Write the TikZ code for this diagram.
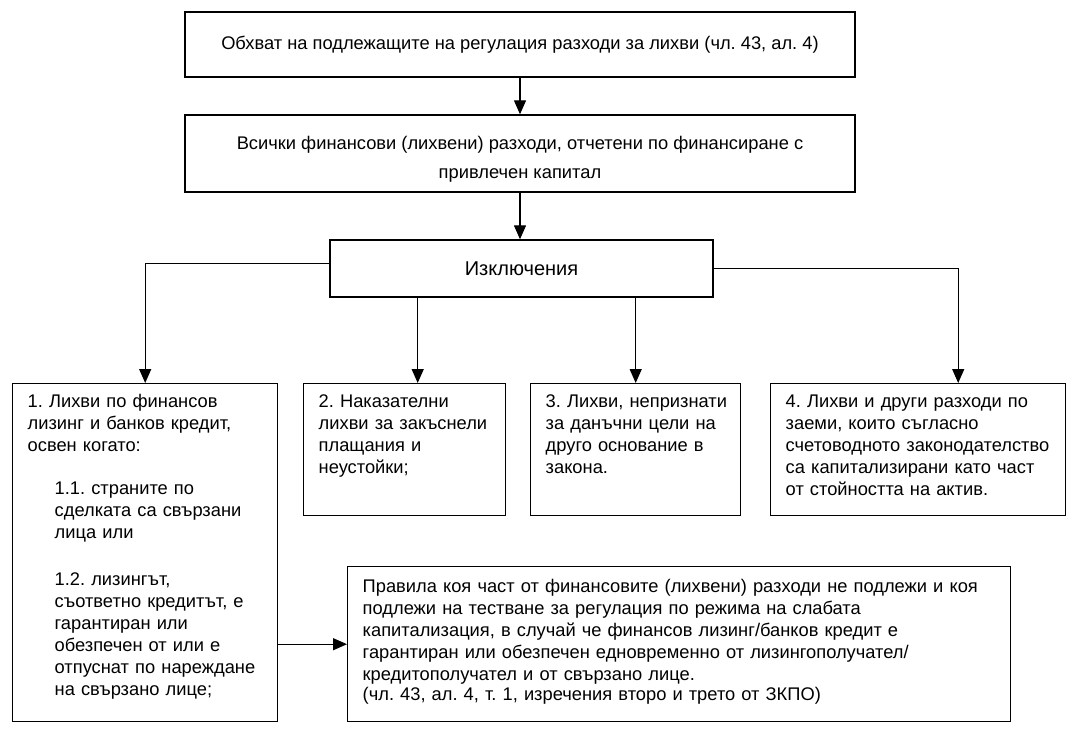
\documentclass[tikz,border=0pt]{standalone}
\usepackage{fontspec}
\setmainfont{Liberation Sans}
\frenchspacing
\usetikzlibrary{arrows.meta}

\begin{document}
\begin{tikzpicture}[
    x=1pt, y=-1pt,
    box/.style={rectangle, draw=black, line width=1.4pt, align=center,
                font=\fontsize{18.3}{22}\selectfont},
    listbox/.style={rectangle, draw=black, line width=1.4pt, anchor=north west,
                    align=left, inner xsep=15pt, inner ysep=0pt, text height=24pt,
                    font=\fontsize{18.3}{22}\selectfont,
                    execute at begin node={\setlength{\baselineskip}{22pt}}},
    arr/.style={-{Triangle[length=14pt, width=12pt]}, line width=1.3pt}
]
\useasboundingbox (0,0) rectangle (1078,729);

\node[box, minimum width=670pt, minimum height=65pt] (scope) at (520,44.5)
    {Обхват на подлежащите на регулация разходи за лихви (чл. 43, ал. 4)};
\node[box, minimum width=670pt, minimum height=77pt] (costs) at (520,153.5)
    {\rule{0pt}{24pt}Всички финансови (лихвени) разходи, отчетени по финансиране с\\[7pt] привлечен капитал};
\node[box, minimum width=383pt, minimum height=57pt, font=\fontsize{20}{24}\selectfont] (excl)
    at (521.5,268.5) {Изключения};

\node[listbox, text width=235pt, text depth=314pt] (lease) at (12,383)
    {1. Лихви по финансов\\ лизинг и банков кредит,\\ освен когато:\\[21pt]
     \hspace*{27pt}1.1. страните по\\
     \hspace*{27pt}сделката са свързани\\
     \hspace*{27pt}лица или\\[25pt]
     \hspace*{27pt}1.2. лизингът,\\
     \hspace*{27pt}съответно кредитът, е\\
     \hspace*{27pt}гарантиран или\\
     \hspace*{27pt}обезпечен от или е\\
     \hspace*{27pt}\mbox{отпуснат по нареждане}\\
     \hspace*{27pt}на свързано лице;};
\node[listbox, text width=172pt, text depth=108pt] (penalty) at (303,383)
    {2. Наказателни\\ \mbox{лихви за закъснели}\\ плащания и\\ неустойки;};
\node[listbox, text width=180pt, text depth=108pt] (nontax) at (530,383)
    {\mbox{3. Лихви, непризнати}\\ за данъчни цели на\\ друго основание в\\ закона.};
\node[listbox, text width=265pt, text depth=108pt] (capital) at (770,383)
    {4. Лихви и други разходи по\\ заеми, които съгласно\\ \mbox{счетоводното законодателство}\\
     са капитализирани като част\\ от стойността на актив.};

\node[listbox, text width=633pt, text height=26pt, text depth=129pt] (rules) at (347,566)
    {\mbox{Правила коя част от финансовите (лихвени) разходи не подлежи и коя}\\
     подлежи на тестване за регулация по режима на слабата\\
     \mbox{капитализация, в случай че финансов лизинг/банков кредит е}\\
     \mbox{гарантиран или обезпечен едновременно от лизингополучател/}\\
     кредитополучател и от свързано лице.\\[-2pt]
     (чл. 43, ал. 4, т. 1, изречения второ и трето от ЗКПО)};

\draw[arr] (scope) -- (costs);
\draw[arr] (costs.south) -- (costs.south |- excl.north);
\draw[arr] ([yshift=5pt]excl.west) -| (lease.north);
\draw[arr] ([xshift=13pt]penalty.north |- excl.south) -- ([xshift=13pt]penalty.north);
\draw[arr] (nontax.north |- excl.south) -- (nontax.north);
\draw[arr] (excl.east) -| ([xshift=40pt]capital.north);
\draw[arr] (lease.east |- rules.west) -- (rules.west);
\end{tikzpicture}
\end{document}
